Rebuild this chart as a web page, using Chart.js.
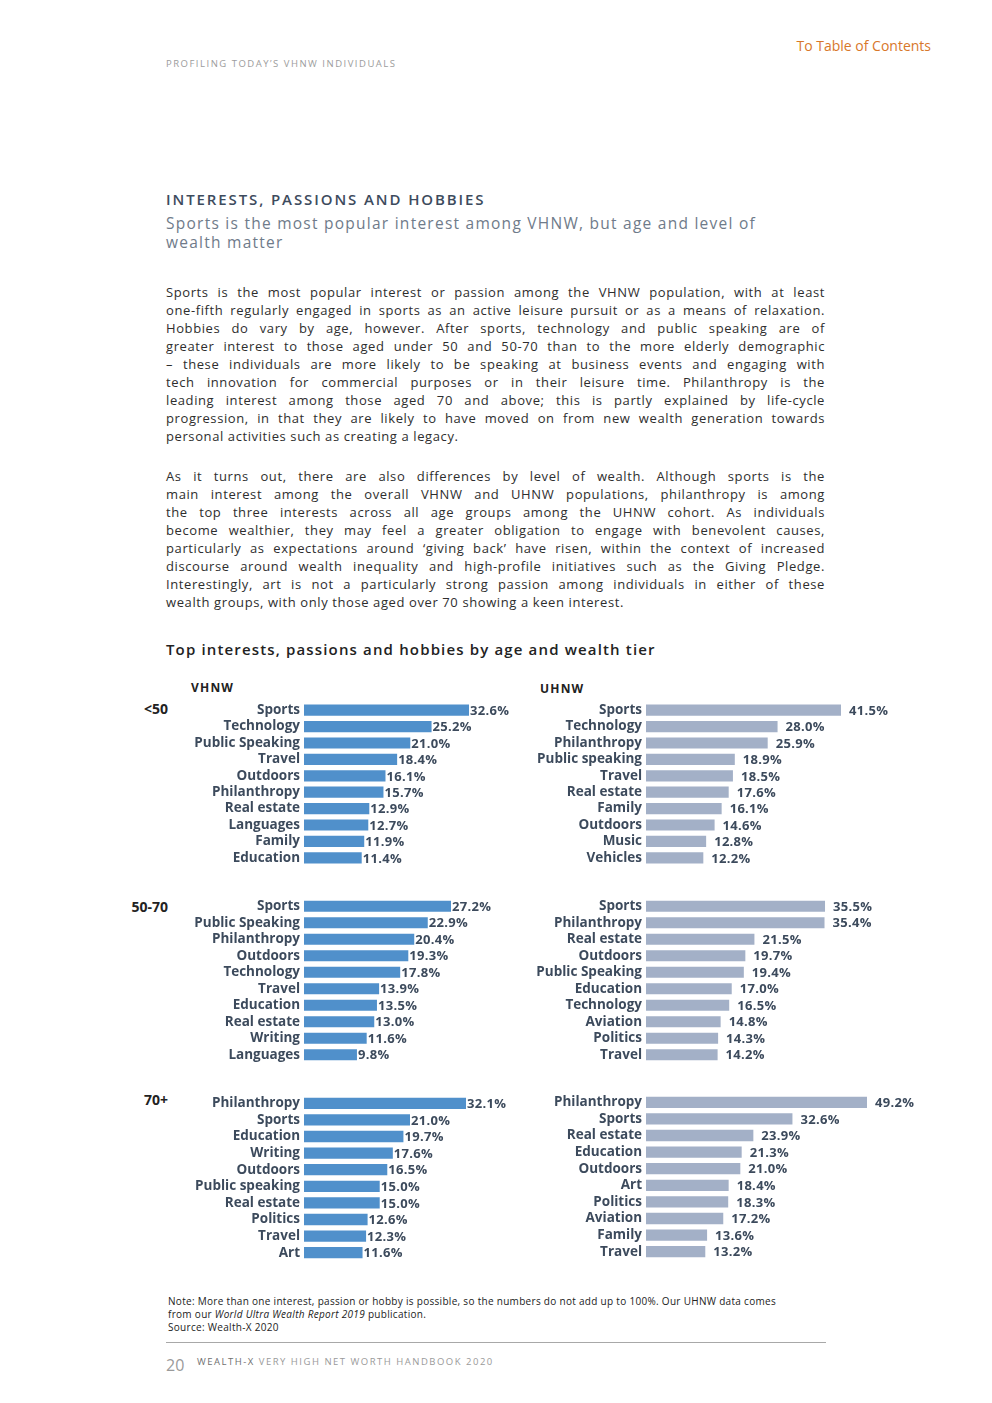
<!DOCTYPE html>
<html>
<head>
<meta charset="utf-8">
<script src="https://cdn.jsdelivr.net/npm/chart.js@4.4.1/dist/chart.umd.min.js"></script>
<style>
  body { margin: 0; background: #fff; }
  #page { position: relative; width: 992px; height: 1403px; overflow: hidden; font-family: "Open Sans", sans-serif; color: #333; }
  .abs { position: absolute; white-space: nowrap; }
  .header { left: 166px; top: 57px; font-size: 9.5px; letter-spacing: 1.5px; color: #9c9c9c; }
  .toc { right: 61px; top: 36px; font-size: 14px; color: #d8772a; }
  .title { left: 166px; top: 189px; font-size: 15px; letter-spacing: 1.9px; color: #3d4b5d; font-weight: 600; }
  .subtitle { left: 166px; top: 214px; font-size: 15.5px; line-height: 19px; letter-spacing: 1.25px; color: #6f7b8a; }
  .para { left: 166px; width: 659px; font-size: 13px; line-height: 18px; letter-spacing: 0.6px; color: #2e2e2e; }
  .para div { text-align: justify; text-align-last: justify; white-space: nowrap; }
  .para div.last { text-align-last: left; }
  .chart-title { left: 166px; top: 639px; font-size: 15px; font-weight: 600; letter-spacing: 1.15px; color: #222; }
  .tier { font-size: 12px; font-weight: 700; color: #222; letter-spacing: 1.2px; }
  .age { width: 60px; text-align: right; left: 108px; font-size: 14px; font-weight: 700; color: #222; }
  .note { left: 168px; top: 1295px; font-size: 10px; line-height: 13px; letter-spacing: 0.3px; color: #222; }
  .rule { left: 166px; top: 1342px; width: 660px; height: 1px; background: #a8a8a8; }
  .pageno { left: 166px; top: 1354px; font-size: 16px; color: #9a9a9a; }
  .footer { left: 197px; top: 1355px; font-size: 9.5px; letter-spacing: 1.5px; color: #9a9a9a; }
  .footer b { font-weight: 400; color: #6f6f6f; }
  .chart-box { position: absolute; }
</style>
</head>
<body>
<div id="page">
  <div class="abs toc">To Table of Contents</div>
  <div class="abs header">PROFILING TODAY’S VHNW INDIVIDUALS</div>

  <div class="abs title">INTERESTS, PASSIONS AND HOBBIES</div>
  <div class="abs subtitle">Sports is the most popular interest among VHNW, but age and level of<br>wealth matter</div>

  <div class="abs para" style="top:283px">
    <div>Sports is the most popular interest or passion among the VHNW population, with at least</div>
    <div>one-fifth regularly engaged in sports as an active leisure pursuit or as a means of relaxation.</div>
    <div>Hobbies do vary by age, however. After sports, technology and public speaking are of</div>
    <div>greater interest to those aged under 50 and 50-70 than to the more elderly demographic</div>
    <div>– these individuals are more likely to be speaking at business events and engaging with</div>
    <div>tech innovation for commercial purposes or in their leisure time. Philanthropy is the</div>
    <div>leading interest among those aged 70 and above; this is partly explained by life-cycle</div>
    <div>progression, in that they are likely to have moved on from new wealth generation towards</div>
    <div class="last">personal activities such as creating a legacy.</div>
  </div>

  <div class="abs para" style="top:467px">
    <div>As it turns out, there are also differences by level of wealth. Although sports is the</div>
    <div>main interest among the overall VHNW and UHNW populations, philanthropy is among</div>
    <div>the top three interests across all age groups among the UHNW cohort. As individuals</div>
    <div>become wealthier, they may feel a greater obligation to engage with benevolent causes,</div>
    <div>particularly as expectations around ‘giving back’ have risen, within the context of increased</div>
    <div>discourse around wealth inequality and high-profile initiatives such as the Giving Pledge.</div>
    <div>Interestingly, art is not a particularly strong passion among individuals in either of these</div>
    <div class="last">wealth groups, with only those aged over 70 showing a keen interest.</div>
  </div>

  <div class="abs chart-title">Top interests, passions and hobbies by age and wealth tier</div>
  <div class="abs tier" style="left:191px; top:679px">VHNW</div>
  <div class="abs tier" style="left:540px; top:680px">UHNW</div>
  <div class="abs age" style="top:699px">&lt;50</div>
  <div class="abs age" style="top:897px">50-70</div>
  <div class="abs age" style="top:1090px">70+</div>

  <div class="chart-box" style="left:170px; top:702px; width:400px; height:164px"><canvas id="vhnwUnder50"></canvas></div>
  <div class="chart-box" style="left:520px; top:702px; width:420px; height:164px"><canvas id="uhnwUnder50"></canvas></div>
  <div class="chart-box" style="left:170px; top:898px; width:400px; height:165px"><canvas id="vhnw50to70"></canvas></div>
  <div class="chart-box" style="left:520px; top:898px; width:420px; height:165px"><canvas id="uhnw50to70"></canvas></div>
  <div class="chart-box" style="left:170px; top:1095px; width:400px; height:166px"><canvas id="vhnwOver70"></canvas></div>
  <div class="chart-box" style="left:520px; top:1094px; width:420px; height:166px"><canvas id="uhnwOver70"></canvas></div>

  <div class="abs note">Note: More than one interest, passion or hobby is possible, so the numbers do not add up to 100%. Our UHNW data comes<br>from our <i>World Ultra Wealth Report 2019</i> publication.<br>Source: Wealth-X 2020</div>
  <div class="abs rule"></div>
  <div class="abs pageno">20</div>
  <div class="abs footer"><b>WEALTH-X</b> VERY HIGH NET WORTH HANDBOOK 2020</div>
</div>

<script>
const vhnwUnder50Labels = ["Sports", "Technology", "Public Speaking", "Travel", "Outdoors", "Philanthropy", "Real estate", "Languages", "Family", "Education"];
const vhnwUnder50Values = [32.6, 25.2, 21.0, 18.4, 16.1, 15.7, 12.9, 12.7, 11.9, 11.4];

const uhnwUnder50Labels = ["Sports", "Technology", "Philanthropy", "Public speaking", "Travel", "Real estate", "Family", "Outdoors", "Music", "Vehicles"];
const uhnwUnder50Values = [41.5, 28.0, 25.9, 18.9, 18.5, 17.6, 16.1, 14.6, 12.8, 12.2];

const vhnw50to70Labels = ["Sports", "Public Speaking", "Philanthropy", "Outdoors", "Technology", "Travel", "Education", "Real estate", "Writing", "Languages"];
const vhnw50to70Values = [27.2, 22.9, 20.4, 19.3, 17.8, 13.9, 13.5, 13.0, 11.6, 9.8];

const uhnw50to70Labels = ["Sports", "Philanthropy", "Real estate", "Outdoors", "Public Speaking", "Education", "Technology", "Aviation", "Politics", "Travel"];
const uhnw50to70Values = [35.5, 35.4, 21.5, 19.7, 19.4, 17.0, 16.5, 14.8, 14.3, 14.2];

const vhnwOver70Labels = ["Philanthropy", "Sports", "Education", "Writing", "Outdoors", "Public speaking", "Real estate", "Politics", "Travel", "Art"];
const vhnwOver70Values = [32.1, 21.0, 19.7, 17.6, 16.5, 15.0, 15.0, 12.6, 12.3, 11.6];

const uhnwOver70Labels = ["Philanthropy", "Sports", "Real estate", "Education", "Outdoors", "Art", "Politics", "Aviation", "Family", "Travel"];
const uhnwOver70Values = [49.2, 32.6, 23.9, 21.3, 21.0, 18.4, 18.3, 17.2, 13.6, 13.2];

const VHNW_BLUE = "#5090cb";
const UHNW_GREY = "#a3b0c7";
const TEXT_DARK = "#3c4a5c";
const LABEL_FONT = "'Open Sans', sans-serif";

// draws the "32.6%" style numbers just past the end of each bar
const valueLabels = {
  id: "valueLabels",
  afterDatasetsDraw(chart, args, opts) {
    const ctx = chart.ctx;
    const values = chart.data.datasets[0].data;
    ctx.save();
    ctx.font = `bold 13px ${LABEL_FONT}`;
    ctx.letterSpacing = "0.3px";
    ctx.fillStyle = TEXT_DARK;
    ctx.textBaseline = "middle";
    chart.getDatasetMeta(0).data.forEach((bar, i) => {
      ctx.fillText(`${values[i].toFixed(1)}%`, bar.x + opts.gap, bar.y + 1);
    });
    ctx.restore();
  }
};

function makeChart(id, labels, values, color, max, axisWidth, gap) {
  return new Chart(document.getElementById(id).getContext("2d"), {
    type: "bar",
    data: {
      labels,
      datasets: [{ data: values, backgroundColor: color, borderWidth: 0, barPercentage: 0.68, categoryPercentage: 1 }]
    },
    options: {
      indexAxis: "y",
      responsive: true,
      maintainAspectRatio: false,
      animation: false,
      layout: { padding: 0 },
      scales: {
        x: { display: false, min: 0, max },
        y: {
          grid: { display: false, drawTicks: false },
          border: { display: false },
          ticks: { autoSkip: false, color: TEXT_DARK, font: { family: LABEL_FONT, size: 13.5, weight: "bold" }, padding: 4 },
          afterFit: (scale) => {
            // fixed label column so all bars in a tier start at the same x
            scale.width = axisWidth;
            scale.paddingTop = 0;
            scale.paddingBottom = 0;
          }
        }
      },
      plugins: { legend: { display: false }, tooltip: { enabled: false }, valueLabels: { gap } }
    },
    plugins: [valueLabels]
  });
}

makeChart("vhnwUnder50", vhnwUnder50Labels, vhnwUnder50Values, VHNW_BLUE, 52.55, 134, 1);
makeChart("uhnwUnder50", uhnwUnder50Labels, uhnwUnder50Values, UHNW_GREY, 62.57, 126, 8);
makeChart("vhnw50to70", vhnw50to70Labels, vhnw50to70Values, VHNW_BLUE, 49.22, 134, 1);
makeChart("uhnw50to70", uhnw50to70Labels, uhnw50to70Values, UHNW_GREY, 58.3, 126, 8);
makeChart("vhnwOver70", vhnwOver70Labels, vhnwOver70Values, VHNW_BLUE, 52.7, 134, 1);
makeChart("uhnwOver70", uhnwOver70Labels, uhnwOver70Values, UHNW_GREY, 65.45, 126, 8);
</script>
</body>
</html>
